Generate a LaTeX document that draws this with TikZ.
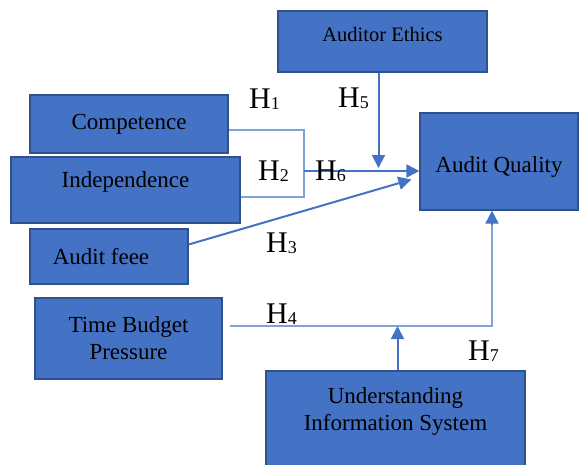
\documentclass[tikz,border=0pt]{standalone}
\usepackage{fontspec}
\setmainfont{Liberation Serif}
\usetikzlibrary{arrows.meta}
\definecolor{boxblue}{HTML}{4472C4}
\definecolor{boxedge}{HTML}{2F528F}
\definecolor{linkblue}{HTML}{4472C4}
\definecolor{thinblue}{HTML}{7FA2DB}
\newcommand{\hyp}[1]{H\raisebox{-1.5pt}{\fontsize{18}{18}\selectfont #1}}
\tikzset{
  varbox/.style={draw=boxedge, line width=1.2pt, fill=boxblue, inner sep=0pt, align=center, font=\fontsize{23}{27}\selectfont},
  link/.style={draw=linkblue, line width=2pt, -{Triangle[length=13pt,width=13pt]}},
  thinlink/.style={draw=thinblue, line width=1.2pt},
  hlab/.style={anchor=base west, inner sep=0pt, font=\fontsize{30}{30}\selectfont}
}
\begin{document}
\begin{tikzpicture}[x=1pt,y=-1pt]
\clip (0,0) rectangle (584,464);
\node[varbox, minimum width=209pt, minimum height=61pt, text depth=15pt, font=\fontsize{20.5}{24}\selectfont] (ethics) at (382.5,41.5) {Auditor Ethics};
\node[varbox, minimum width=198pt, minimum height=58pt] (comp) at (129,124) {Competence};
\node[varbox, minimum width=229pt, minimum height=66pt, text depth=21pt] (indep) at (125.5,190) {Independence};
\node[varbox, minimum width=158pt, minimum height=55pt] (fee) at (109,256.5) {\hspace*{-16pt}Audit feee};
\node[varbox, minimum width=158pt, minimum height=97pt, text height=26pt] (quality) at (499,161.5) {Audit Quality};
\node[varbox, minimum width=187pt, minimum height=81pt] (budget) at (128.5,338.5) {Time Budget\\Pressure};
\node[varbox, minimum width=259pt, minimum height=100pt, text depth=23pt] (uis) at (395.5,421) {Understanding\\Information System};
\coordinate (join) at (304,171);
\coordinate (h4start) at (230,326);
\draw[thinlink] ([yshift=-6pt]comp.east) -| (join) |- ([yshift=-7pt]indep.east);
\draw[link] (join) -- (quality.west |- join);
\draw[link] ([xshift=-4pt]ethics.south) -- ([xshift=-4pt,yshift=3pt]ethics.south |- join);
\draw[link] ([yshift=12pt]fee.east) -- ([xshift=-8pt,yshift=-18pt]quality.west);
\draw[thinlink] (h4start) -| ([xshift=-7pt,yshift=-14pt]quality.south);
\draw[link] ([xshift=-7pt,yshift=-14pt]quality.south) -- ([xshift=-7pt]quality.south);
\draw[link] ([xshift=2pt]uis.north) -- ([xshift=2pt]uis.north |- h4start);
\node[hlab] (h1lab) at (249,108) {\hyp{1}};
\node[hlab] (h2lab) at (258,180) {\hyp{2}};
\node[hlab] (h6lab) at (315,180) {\hyp{6}};
\node[hlab] (h5lab) at (338,107) {\hyp{5}};
\node[hlab] (h3lab) at (266,252) {\hyp{3}};
\node[hlab] (h4lab) at (266,323) {\hyp{4}};
\node[hlab] (h7lab) at (468,360) {\hyp{7}};
\end{tikzpicture}
\end{document}
